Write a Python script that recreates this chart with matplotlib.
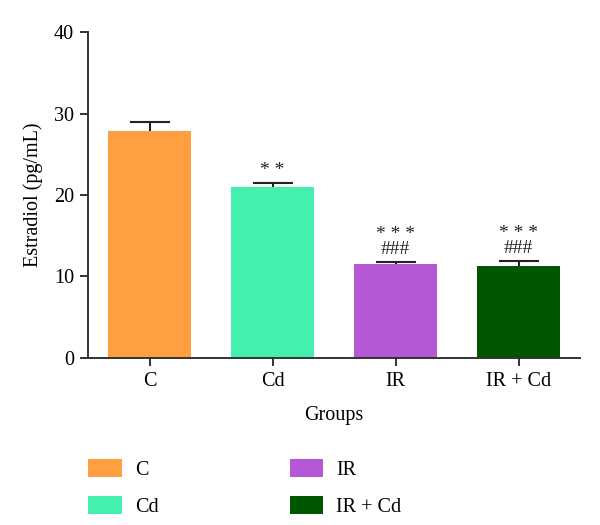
import matplotlib
matplotlib.use("Agg")
import matplotlib.pyplot as plt
from matplotlib.patches import Patch

groups = ["C", "Cd", "IR", "IR + Cd"]
means = [27.9, 21.0, 11.55, 11.3]
errors = [1.1, 0.5, 0.25, 0.6]
colors = ["#FF9F40", "#45EFAE", "#B657D6", "#005700"]
sig_labels = ["", "* *", "* * *\n###", "* * *\n###"]

plt.rcParams['font.family'] = ['Liberation Serif', 'DejaVu Serif']

fig = plt.figure(figsize=(6, 5.25), dpi=100)
ax = fig.add_axes([0.1467, 0.3187, 0.82, 0.6198])

x = list(range(len(groups)))
ax.bar(x, means, width=0.677, color=colors, zorder=2)
_, caps, _ = ax.errorbar(x, means, yerr=[[0]*len(errors), errors], fmt='none',
                         ecolor='#222222', elinewidth=1.5, capsize=14.4,
                         capthick=1.5, zorder=3)
# hide the lower caps (drawn at the bar tops)
for c in caps:
    yd = list(c.get_ydata())
    if all(abs(a - b) < 1e-9 for a, b in zip(yd, means)):
        c.set_visible(False)

for xi, m, e, s in zip(x, means, errors, sig_labels):
    if s:
        ax.text(xi, m + e + 0.5, s, ha='center', va='bottom', fontsize=14,
                linespacing=0.85, color='#222222')

ax.set_xlim(-0.5, 3.5)
ax.set_ylim(0, 40)
ax.set_yticks([0, 10, 20, 30, 40])
ax.set_xticks(x)
ax.set_xticklabels(groups)
for sp in ['top', 'right']:
    ax.spines[sp].set_visible(False)
for sp in ['left', 'bottom']:
    ax.spines[sp].set_linewidth(1.4)
    ax.spines[sp].set_color('#333333')
ax.tick_params(axis='both', labelsize=14.5, length=6, width=1.4, color='#333333', pad=4)
ax.set_ylabel("Estradiol (pg/mL)", fontsize=14.5, labelpad=8)
ax.set_xlabel("Groups", fontsize=14.5, labelpad=11)

handles = [Patch(facecolor=c, edgecolor='none') for c in colors]
fig.legend(handles, groups, loc='upper left', bbox_to_anchor=(0.117, 0.16),
           ncol=2, frameon=False, fontsize=14.5, handlelength=1.65, handleheight=1.0,
           handletextpad=0.65, labelspacing=0.8, columnspacing=6.55)

fig.savefig("out.png", dpi=100)
